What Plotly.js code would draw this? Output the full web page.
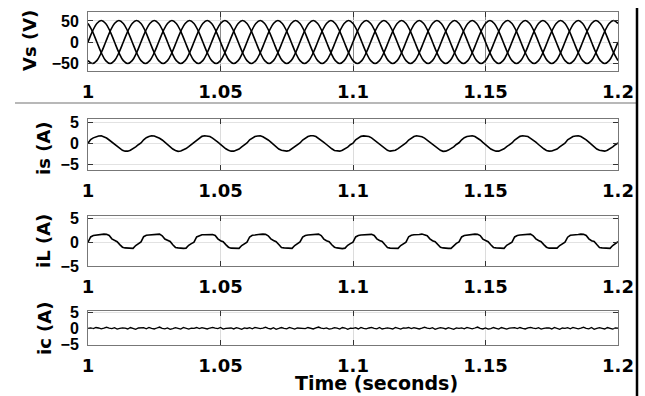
<!DOCTYPE html>
<html>
<head>
<meta charset="utf-8">
<script src="https://cdn.plot.ly/plotly-3.0.1.min.js"></script>
<style>html,body{margin:0;padding:0;background:#fff;}#chart{width:645px;height:396px;}</style>
</head>
<body>
<div id="chart"></div>
<script>
// ---- data ----
const tStart = 1;
const vsStep = 1 / 600;   // 30 degree sampling of the 50 Hz supply
const iStep = 0.001;

const xTickVals = [1, 1.05, 1.1, 1.15, 1.2];
const xTickText = ['1', '1.05', '1.1', '1.15', '1.2'];
const vsTickVals = [-50, 0, 50];
const iTickVals = [-5, 0, 5];

const vsA = [
 0,25.5,44.2,51,44.2,25.5,0,-25.5,-44.2,-51,-44.2,-25.5,
 0,25.5,44.2,51,44.2,25.5,0,-25.5,-44.2,-51,-44.2,-25.5,
 0,25.5,44.2,51,44.2,25.5,0,-25.5,-44.2,-51,-44.2,-25.5,
 0,25.5,44.2,51,44.2,25.5,0,-25.5,-44.2,-51,-44.2,-25.5,
 0,25.5,44.2,51,44.2,25.5,0,-25.5,-44.2,-51,-44.2,-25.5,
 0,25.5,44.2,51,44.2,25.5,0,-25.5,-44.2,-51,-44.2,-25.5,
 0,25.5,44.2,51,44.2,25.5,0,-25.5,-44.2,-51,-44.2,-25.5,
 0,25.5,44.2,51,44.2,25.5,0,-25.5,-44.2,-51,-44.2,-25.5,
 0,25.5,44.2,51,44.2,25.5,0,-25.5,-44.2,-51,-44.2,-25.5,
 0,25.5,44.2,51,44.2,25.5,0,-25.5,-44.2,-51,-44.2,-25.5,
 0];
const vsB = [
 -44.2,-51,-44.2,-25.5,0,25.5,44.2,51,44.2,25.5,0,-25.5,
 -44.2,-51,-44.2,-25.5,0,25.5,44.2,51,44.2,25.5,0,-25.5,
 -44.2,-51,-44.2,-25.5,0,25.5,44.2,51,44.2,25.5,0,-25.5,
 -44.2,-51,-44.2,-25.5,0,25.5,44.2,51,44.2,25.5,0,-25.5,
 -44.2,-51,-44.2,-25.5,0,25.5,44.2,51,44.2,25.5,0,-25.5,
 -44.2,-51,-44.2,-25.5,0,25.5,44.2,51,44.2,25.5,0,-25.5,
 -44.2,-51,-44.2,-25.5,0,25.5,44.2,51,44.2,25.5,0,-25.5,
 -44.2,-51,-44.2,-25.5,0,25.5,44.2,51,44.2,25.5,0,-25.5,
 -44.2,-51,-44.2,-25.5,0,25.5,44.2,51,44.2,25.5,0,-25.5,
 -44.2,-51,-44.2,-25.5,0,25.5,44.2,51,44.2,25.5,0,-25.5,
 -44.2];
const vsC = [
 44.2,25.5,0,-25.5,-44.2,-51,-44.2,-25.5,0,25.5,44.2,51,
 44.2,25.5,0,-25.5,-44.2,-51,-44.2,-25.5,0,25.5,44.2,51,
 44.2,25.5,0,-25.5,-44.2,-51,-44.2,-25.5,0,25.5,44.2,51,
 44.2,25.5,0,-25.5,-44.2,-51,-44.2,-25.5,0,25.5,44.2,51,
 44.2,25.5,0,-25.5,-44.2,-51,-44.2,-25.5,0,25.5,44.2,51,
 44.2,25.5,0,-25.5,-44.2,-51,-44.2,-25.5,0,25.5,44.2,51,
 44.2,25.5,0,-25.5,-44.2,-51,-44.2,-25.5,0,25.5,44.2,51,
 44.2,25.5,0,-25.5,-44.2,-51,-44.2,-25.5,0,25.5,44.2,51,
 44.2,25.5,0,-25.5,-44.2,-51,-44.2,-25.5,0,25.5,44.2,51,
 44.2,25.5,0,-25.5,-44.2,-51,-44.2,-25.5,0,25.5,44.2,51,
 44.2];

const isA = [
 0.05,0.9,1.3,1.6,1.75,1.8,1.6,1.25,0.8,0.3,-0.25,-0.8,-1.25,-1.6,-1.8,-1.8,-1.6,-1.25,-0.8,-0.3,
 0.1,0.85,1.35,1.6,1.8,1.75,1.55,1.2,0.8,0.25,-0.3,-0.85,-1.3,-1.65,-1.85,-1.75,-1.55,-1.2,-0.75,-0.25,
 0.15,0.8,1.3,1.65,1.8,1.75,1.6,1.25,0.85,0.3,-0.2,-0.8,-1.25,-1.6,-1.8,-1.8,-1.6,-1.3,-0.8,-0.3,
 0.1,0.85,1.3,1.6,1.75,1.8,1.55,1.25,0.8,0.3,-0.3,-0.8,-1.3,-1.6,-1.75,-1.8,-1.65,-1.25,-0.8,-0.25,
 0.1,0.8,1.25,1.6,1.8,1.8,1.6,1.2,0.8,0.25,-0.25,-0.85,-1.25,-1.65,-1.8,-1.8,-1.6,-1.25,-0.85,-0.3,
 0.05,0.85,1.3,1.65,1.75,1.75,1.6,1.3,0.8,0.3,-0.3,-0.8,-1.3,-1.6,-1.8,-1.75,-1.6,-1.2,-0.8,-0.3,
 0.1,0.8,1.3,1.6,1.8,1.75,1.55,1.25,0.75,0.3,-0.25,-0.8,-1.25,-1.6,-1.85,-1.8,-1.55,-1.25,-0.8,-0.25,
 0.15,0.85,1.35,1.6,1.75,1.8,1.6,1.25,0.8,0.25,-0.3,-0.85,-1.3,-1.6,-1.8,-1.8,-1.6,-1.25,-0.75,-0.3,
 0.1,0.8,1.3,1.65,1.8,1.75,1.6,1.2,0.8,0.3,-0.25,-0.8,-1.25,-1.65,-1.8,-1.75,-1.6,-1.3,-0.8,-0.3,
 0.05,0.85,1.3,1.6,1.75,1.8,1.6,1.25,0.85,0.3,-0.3,-0.8,-1.3,-1.6,-1.75,-1.8,-1.6,-1.25,-0.8,-0.3,
 0.1];

const iLA = [
 0.0,1.1,1.4,1.5,1.55,1.6,1.7,1.65,1.4,0.7,0.35,0.1,-0.5,-1.05,-1.2,-1.25,-1.3,-1.3,-0.7,-0.3,
 0.05,1.15,1.45,1.5,1.5,1.6,1.65,1.7,1.35,0.65,0.35,0.15,-0.55,-1.1,-1.2,-1.3,-1.3,-1.25,-0.65,-0.3,
 0.0,1.1,1.4,1.55,1.55,1.6,1.7,1.6,1.4,0.7,0.3,0.1,-0.5,-1.05,-1.25,-1.25,-1.35,-1.3,-0.7,-0.25,
 0.0,1.1,1.45,1.5,1.5,1.65,1.7,1.65,1.35,0.7,0.35,0.1,-0.5,-1.1,-1.2,-1.25,-1.3,-1.3,-0.7,-0.3,
 0.05,1.05,1.4,1.5,1.55,1.6,1.65,1.7,1.4,0.65,0.3,0.1,-0.55,-1.05,-1.2,-1.3,-1.35,-1.25,-0.65,-0.3,
 0.0,1.1,1.4,1.5,1.55,1.6,1.7,1.65,1.4,0.7,0.35,0.15,-0.5,-1.1,-1.25,-1.25,-1.3,-1.3,-0.7,-0.3,
 0.0,1.15,1.45,1.55,1.5,1.6,1.7,1.6,1.35,0.7,0.3,0.1,-0.5,-1.05,-1.2,-1.3,-1.3,-1.3,-0.7,-0.25,
 0.05,1.1,1.4,1.5,1.55,1.65,1.7,1.65,1.4,0.65,0.35,0.1,-0.55,-1.1,-1.2,-1.25,-1.35,-1.3,-0.65,-0.3,
 0.0,1.1,1.4,1.5,1.55,1.6,1.65,1.7,1.35,0.7,0.35,0.1,-0.5,-1.05,-1.25,-1.3,-1.3,-1.25,-0.7,-0.3,
 0.0,1.05,1.45,1.5,1.5,1.6,1.7,1.65,1.4,0.7,0.3,0.15,-0.5,-1.1,-1.2,-1.25,-1.3,-1.3,-0.7,-0.3,
 0.1];

const icA = [
 0,0.15,-0.1,0.25,0.1,-0.15,0.05,0.35,0.05,-0.1,0.2,-0.25,-0.05,0.15,0.05,-0.2,0.25,0.05,-0.3,0.1,
 0.05,0.2,-0.15,0.3,0.0,-0.2,0.1,0.4,0.0,-0.15,0.15,-0.3,-0.1,0.2,0.0,-0.25,0.3,0.1,-0.25,0.05,
 0,0.25,-0.1,0.2,0.05,-0.2,0.1,0.3,0.05,-0.1,0.25,-0.25,0.0,0.15,0.1,-0.2,0.2,0.0,-0.3,0.15,
 -0.05,0.2,-0.15,0.3,0.1,-0.1,0.05,0.35,0.0,-0.2,0.2,-0.3,-0.05,0.25,0.0,-0.15,0.3,0.05,-0.25,0.1,
 0.05,0.15,-0.1,0.25,0.05,-0.2,0.15,0.4,0.05,-0.1,0.15,-0.25,-0.1,0.2,0.05,-0.25,0.25,0.1,-0.3,0.05,
 0,0.2,-0.2,0.3,0.0,-0.15,0.1,0.3,0.0,-0.15,0.25,-0.2,-0.05,0.15,0.0,-0.2,0.3,0.0,-0.25,0.1,
 0.05,0.25,-0.1,0.2,0.1,-0.2,0.05,0.35,0.05,-0.1,0.2,-0.3,0.0,0.2,0.05,-0.2,0.2,0.05,-0.3,0.15,
 0,0.15,-0.15,0.3,0.05,-0.15,0.1,0.4,0.0,-0.2,0.15,-0.25,-0.1,0.25,0.0,-0.25,0.25,0.1,-0.25,0.05,
 0.05,0.2,-0.1,0.25,0.0,-0.2,0.15,0.3,0.05,-0.1,0.2,-0.25,-0.05,0.15,0.1,-0.2,0.3,0.0,-0.3,0.1,
 0,0.2,-0.15,0.3,0.1,-0.15,0.05,0.35,0.0,-0.15,0.25,-0.3,0.0,0.2,0.0,-0.2,0.25,0.05,-0.25,0.1,
 0.05];

const yTitles = ['Vs (V)', 'is (A)', 'iL (A)', 'ic (A)'];
const xTitle = 'Time (seconds)';

// ---- drawing ----
const W = 645, H = 396;
const px = v => v / W;
const py = v => 1 - v / H;

const lineStyle = {color: '#000', width: 1.6};
const traces = [
  {x0: tStart, dx: vsStep, y: vsA, xaxis: 'x', yaxis: 'y', mode: 'lines', line: Object.assign({shape: 'spline'}, lineStyle)},
  {x0: tStart, dx: vsStep, y: vsB, xaxis: 'x', yaxis: 'y', mode: 'lines', line: Object.assign({shape: 'spline'}, lineStyle)},
  {x0: tStart, dx: vsStep, y: vsC, xaxis: 'x', yaxis: 'y', mode: 'lines', line: Object.assign({shape: 'spline'}, lineStyle)},
  {x0: tStart, dx: iStep, y: isA, xaxis: 'x2', yaxis: 'y2', mode: 'lines', line: lineStyle},
  {x0: tStart, dx: iStep, y: iLA, xaxis: 'x3', yaxis: 'y3', mode: 'lines', line: lineStyle},
  {x0: tStart, dx: iStep, y: icA, xaxis: 'x4', yaxis: 'y4', mode: 'lines', line: {color: '#000', width: 1.3}}
];

const xDomain = [px(88), px(618)];
function xAxis(anchor, gridColor) {
  return {
    domain: xDomain, anchor: anchor, range: [1, 1.2],
    tickmode: 'array', tickvals: xTickVals, ticktext: xTickText,
    ticks: 'inside', ticklen: 5, tickcolor: '#333', tickwidth: 1,
    showline: true, linecolor: '#777', linewidth: 1, mirror: 'ticks',
    showgrid: true, gridcolor: gridColor, gridwidth: 1, zeroline: false,
    tickfont: {family: 'DejaVu Sans', size: 18, weight: 'bold', color: '#000'},
    ticklabelstandoff: 4, fixedrange: true
  };
}
function yAxis(anchor, top, bottom, range, tickvals) {
  return {
    domain: [py(bottom), py(top)], anchor: anchor, range: range,
    tickmode: 'array', tickvals: tickvals,
    ticks: 'inside', ticklen: 5, tickcolor: '#333', tickwidth: 1,
    showline: true, linecolor: '#777', linewidth: 1, mirror: 'ticks',
    showgrid: true, gridcolor: '#e2e2e2', gridwidth: 1, zeroline: false,
    tickfont: {family: 'Liberation Sans', size: 16, weight: 'bold', color: '#000'},
    ticklabelstandoff: 5, fixedrange: true
  };
}

const titleFont = {family: 'DejaVu Sans', size: 18, weight: 'bold', color: '#000'};
function yTitle(text, x, y) {
  return {text: text, xref: 'paper', yref: 'paper', x: px(x), y: py(y), xanchor: 'center', yanchor: 'middle',
          textangle: -90, showarrow: false, font: titleFont};
}

const layout = {
  width: W, height: H,
  margin: {l: 0, r: 0, t: 0, b: 0},
  paper_bgcolor: '#fff', plot_bgcolor: '#fff',
  showlegend: false,
  xaxis: xAxis('y', '#8a8a8a'),
  yaxis: yAxis('x', 12, 71, [-69, 71.4], vsTickVals),
  xaxis2: xAxis('y2', '#dcdcdc'),
  yaxis2: yAxis('x2', 119, 170, [-6.2, 5.7], iTickVals),
  xaxis3: xAxis('y3', '#dcdcdc'),
  yaxis3: yAxis('x3', 216, 266, [-5.0, 5.5], iTickVals),
  xaxis4: xAxis('y4', '#dcdcdc'),
  yaxis4: yAxis('x4', 311, 345, [-5.2, 5.4], iTickVals),
  annotations: [
    yTitle(yTitles[0], 29, 41),
    yTitle(yTitles[1], 43, 148),
    yTitle(yTitles[2], 43, 241),
    yTitle(yTitles[3], 44, 328),
    {text: xTitle, xref: 'paper', yref: 'paper', x: px(377), y: py(383), xanchor: 'center', yanchor: 'middle',
     showarrow: false, font: {family: 'DejaVu Sans', size: 19, weight: 'bold', color: '#000'}}
  ],
  shapes: [
    {type: 'line', xref: 'paper', yref: 'paper', x0: px(15), x1: px(636), y0: py(103), y1: py(103),
     line: {color: '#b8b8b8', width: 2}},
    {type: 'line', xref: 'paper', yref: 'paper', x0: px(637), x1: px(637), y0: 0, y1: py(8),
     line: {color: '#000', width: 2.5}}
  ]
};

Plotly.newPlot('chart', traces, layout, {displayModeBar: false, staticPlot: true});
</script>
</body>
</html>
